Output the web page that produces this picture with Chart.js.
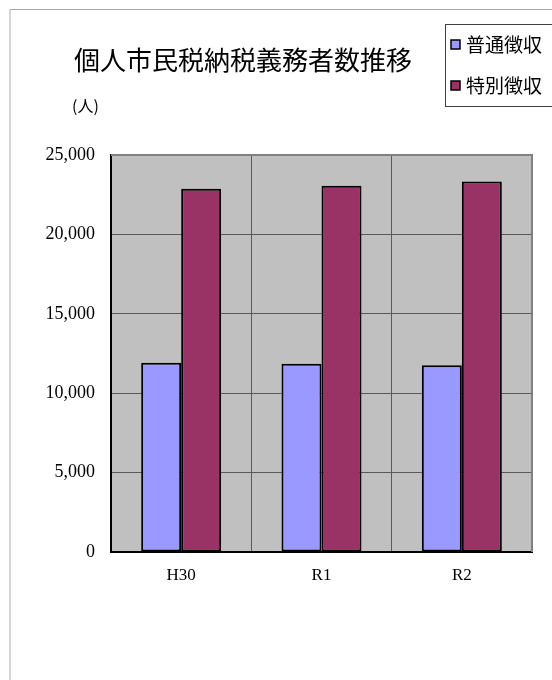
<!DOCTYPE html>
<html>
<head>
<meta charset="utf-8">
<script src="https://cdn.jsdelivr.net/npm/chart.js@4/dist/chart.umd.min.js"></script>
<style>
  html, body { margin: 0; padding: 0; background: #fff; }
  #wrap { width: 552px; height: 680px; }
</style>
</head>
<body>
<div id="wrap"><canvas id="chart" width="552" height="680"></canvas></div>
<script>
// data
const categories = ["H30", "R1", "R2"]
const seriesNames = ["普通徴収", "特別徴収"]
const futsuuValues = [11910, 11850, 11760]
const tokubetsuValues = [22880, 23070, 23330]
const yMax = 25000
const yStep = 5000

const titleText = "個人市民税納税義務者数推移"
const unitText = "(人)"

const jpFont = '"Noto Sans CJK JP", "Noto Sans", sans-serif'
const numFont = '"Liberation Serif", "DejaVu Serif", serif'

// gray plot background, frame, title and a boxed legend
const decorations = {
  id: "decorations",
  beforeDraw(chart) {
    const { ctx, chartArea: a } = chart
    ctx.save()
    ctx.fillStyle = "#c0c0c0"
    ctx.fillRect(a.left, a.top, a.right - a.left, a.bottom - a.top)

    // outer chart frame (only top/left visible)
    ctx.strokeStyle = "#d6d6d6"
    ctx.lineWidth = 2
    ctx.beginPath()
    ctx.moveTo(10, 680)
    ctx.lineTo(10, 10)
    ctx.stroke()
    ctx.strokeStyle = "#a6a6a6"
    ctx.lineWidth = 1
    ctx.beginPath()
    ctx.moveTo(10, 9.5)
    ctx.lineTo(552, 9.5)
    ctx.stroke()
    ctx.restore()
  },
  afterDraw(chart) {
    const { ctx, chartArea: a } = chart
    ctx.save()
    // top + right edge of plot
    ctx.strokeStyle = "#808080"
    ctx.lineWidth = 2
    ctx.beginPath()
    ctx.moveTo(a.left, a.top)
    ctx.lineTo(a.right, a.top)
    ctx.lineTo(a.right, a.bottom)
    ctx.stroke()

    // title
    ctx.fillStyle = "#000"
    ctx.font = "26px " + jpFont
    ctx.textBaseline = "middle"
    ctx.textAlign = "left"
    ctx.fillText(titleText, 74, 60)
    ctx.font = "16px " + jpFont
    ctx.fillText(unitText, 72, 106)

    // legend
    ctx.strokeStyle = "#404040"
    ctx.lineWidth = 1
    ctx.strokeRect(445.5, 24.5, 120, 82)
    ctx.font = "19px " + jpFont
    chart.data.datasets.forEach((ds, i) => {
      const cy = 45 + i * 41
      ctx.fillStyle = ds.backgroundColor
      ctx.fillRect(451, cy - 5, 9, 9)
      ctx.strokeStyle = "#000"
      ctx.lineWidth = 1.5
      ctx.strokeRect(451, cy - 5, 9, 9)
      ctx.fillStyle = "#000"
      ctx.fillText(ds.label, 466, cy)
    })
    ctx.restore()
  },
}

const ctx = document.getElementById("chart").getContext("2d")

new Chart(ctx, {
  type: "bar",
  data: {
    labels: categories,
    datasets: [
      {
        label: seriesNames[0],
        data: futsuuValues,
        backgroundColor: "#9999ff",
        borderColor: "#000",
        borderWidth: 2,
        borderSkipped: false,
      },
      {
        label: seriesNames[1],
        data: tokubetsuValues,
        backgroundColor: "#993366",
        borderColor: "#000",
        borderWidth: 2,
        borderSkipped: false,
      },
    ],
  },
  options: {
    responsive: false,
    animation: false,
    devicePixelRatio: 1,
    layout: { padding: { top: 155, left: 0, right: 20, bottom: 0 } },
    datasets: { bar: { categoryPercentage: 0.57, barPercentage: 1.0 } },
    plugins: {
      legend: { display: false },
      title: { display: false },
      tooltip: { enabled: false },
    },
    scales: {
      x: {
        grid: { color: "#5a5a5a", lineWidth: 1, drawTicks: false, offset: true },
        border: { color: "#000", width: 2 },
        ticks: { color: "#000", font: { family: numFont, size: 17 }, padding: 13 },
        afterFit(scale) { scale.height = 128 },
      },
      y: {
        min: 0,
        max: yMax,
        grid: { color: "#5a5a5a", lineWidth: 1, drawTicks: false },
        border: { color: "#000", width: 2 },
        ticks: {
          stepSize: yStep,
          color: "#000",
          padding: 16,
          font: { family: numFont, size: 18 },
          callback: (v) => v.toLocaleString("en-US"),
        },
        afterFit(scale) { scale.width = 111 },
      },
    },
  },
  plugins: [decorations],
})
</script>
</body>
</html>
